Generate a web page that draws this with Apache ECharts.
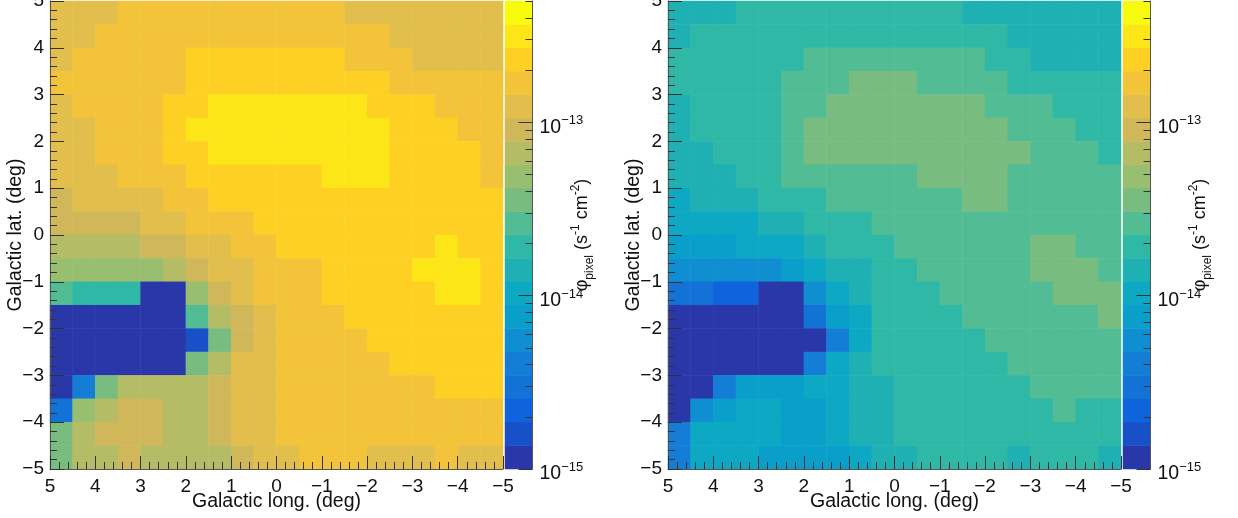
<!DOCTYPE html>
<html>
<head>
<meta charset="utf-8">
<title>Galactic flux maps</title>
<script src="https://cdn.jsdelivr.net/npm/echarts@6/dist/echarts.min.js"></script>
<style>
html, body { margin: 0; padding: 0; background: #fff; }
#chart { width: 1238px; height: 518px; }
</style>
</head>
<body>
<div id="chart"></div>
<script>
// pixel centres, longitude runs 5 -> -5, latitude listed from the top row down
var longCells = ['4.75','4.25','3.75','3.25','2.75','2.25','1.75','1.25','0.75','0.25','-0.25','-0.75','-1.25','-1.75','-2.25','-2.75','-3.25','-3.75','-4.25','-4.75'];
var latCells = ['4.75','4.25','3.75','3.25','2.75','2.25','1.75','1.25','0.75','0.25','-0.25','-0.75','-1.25','-1.75','-2.25','-2.75','-3.25','-3.75','-4.25','-4.75'];

// colour band (0..19) read for every pixel
var bandsLeft = [
  [15,15,15,16,16,16,16,16,16,16,16,16,16,15,15,15,15,15,15,15],
  [15,15,16,16,16,16,16,16,16,16,16,16,16,16,16,15,15,15,15,15],
  [15,16,16,16,16,16,17,17,17,17,17,17,17,16,16,16,15,15,15,15],
  [16,16,16,16,16,16,17,17,17,17,17,17,17,17,17,16,16,16,16,16],
  [15,16,16,16,16,17,17,18,18,18,18,18,18,18,17,17,17,16,16,16],
  [15,15,16,16,16,17,18,18,18,18,18,18,18,18,18,17,17,17,16,16],
  [15,15,16,16,16,17,17,18,18,18,18,18,18,18,18,17,17,17,17,16],
  [15,15,15,16,16,16,17,17,17,17,17,17,18,18,18,17,17,17,17,16],
  [14,15,15,15,15,16,16,17,17,17,17,17,17,17,17,17,17,17,17,17],
  [14,14,14,14,15,15,16,16,16,17,17,17,17,17,17,17,17,17,17,17],
  [13,13,13,13,14,14,15,15,16,16,17,17,17,17,17,17,17,18,17,17],
  [12,12,12,12,12,13,14,15,15,16,16,16,17,17,17,17,18,18,18,17],
  [10,9,9,9,0,0,12,14,15,16,16,16,17,17,17,17,17,18,18,17],
  [0,0,0,0,0,0,10,13,14,15,16,16,16,17,17,17,17,17,17,17],
  [0,0,0,0,0,0,1,11,14,15,16,16,16,16,17,17,17,17,17,17],
  [0,0,0,0,0,0,11,13,15,15,16,16,16,16,16,17,17,17,17,17],
  [0,4,11,13,13,13,13,14,15,15,16,16,16,16,16,16,16,17,17,17],
  [3,12,13,14,14,13,13,14,15,15,16,16,16,16,16,16,16,16,16,16],
  [11,13,14,14,14,13,13,14,15,15,16,16,16,16,16,16,16,16,16,16],
  [11,13,13,14,13,13,13,13,14,15,15,16,16,16,15,15,15,16,15,15]
];
var bandsRight = [
  [8,8,8,9,9,9,9,9,9,9,9,9,9,8,8,8,8,8,8,8],
  [8,9,9,9,9,9,9,9,9,9,9,9,9,9,9,8,8,8,8,8],
  [9,9,9,9,9,9,10,10,10,10,10,10,10,10,9,9,8,8,8,8],
  [9,9,9,9,9,10,10,10,11,11,11,10,10,10,10,9,9,9,9,9],
  [8,9,9,9,9,10,10,11,11,11,11,11,11,11,10,10,10,9,9,9],
  [8,9,9,9,9,10,11,11,11,11,11,11,11,11,11,10,10,10,9,9],
  [8,8,9,9,9,10,11,11,11,11,11,11,11,11,11,11,10,10,10,9],
  [8,8,8,9,9,10,10,10,10,10,10,11,11,11,11,10,10,10,10,10],
  [7,8,8,8,9,9,9,10,10,10,10,10,10,11,11,10,10,10,10,10],
  [7,7,7,7,8,8,9,9,9,10,10,10,10,10,10,10,10,10,10,10],
  [6,6,6,7,7,7,8,9,9,9,10,10,10,10,10,10,11,11,10,10],
  [5,5,5,5,5,6,7,8,8,9,9,10,10,10,10,10,11,11,11,10],
  [3,3,2,2,0,0,5,7,8,9,9,9,10,10,10,10,10,11,11,11],
  [0,0,0,0,0,0,3,6,7,9,9,9,9,10,10,10,10,10,10,11],
  [0,0,0,0,0,0,0,4,7,9,9,9,9,9,10,10,10,10,10,10],
  [0,0,0,0,0,0,4,7,8,9,9,9,9,9,9,10,10,10,10,10],
  [0,0,4,6,6,6,7,7,8,8,9,9,9,9,9,9,10,10,10,10],
  [0,5,6,7,7,6,6,7,8,8,9,9,9,9,9,9,9,10,9,9],
  [4,7,7,7,7,6,6,7,8,8,9,9,9,9,9,9,9,9,9,9],
  [4,7,7,7,6,6,6,6,7,8,8,9,9,9,9,8,9,9,9,8]
];

var bandColors = ['#2a37a8','#1850c8','#0f63dc','#1272d6','#147dd6','#0f8fd2','#0a9fcb','#0ca8c4','#1fb0b4','#2fb8a6',
  '#52bc94','#78bc80','#98bf70','#b4bc66','#d0b85a','#e2bf4c','#f3c43a','#ffd024','#fde617','#f9fb0e'];
var barBands = ['0','1','2','3','4','5','6','7','8','9','10','11','12','13','14','15','16','17','18','19'];

// colour axis, log10 of the flux
var fluxMajor = [-15, -14, -13];
var fluxMinor = [2e-15,3e-15,4e-15,5e-15,6e-15,7e-15,8e-15,9e-15,2e-14,3e-14,4e-14,5e-14,6e-14,7e-14,8e-14,9e-14,2e-13,3e-13,4e-13,5e-13];
var fluxLogMin = -15, fluxLogMax = -12.3;

var TEXT = '#111';
var FONT = 'Liberation Sans';

var grids = [], xAxes = [], yAxes = [], series = [];

function degLabel(v) {
  return v < 0 ? '\u2212' + (-v) : String(v);
}

function addPanel(left, bands) {
  var g = grids.length;
  grids.push({left: left, top: 1, width: 453, height: 468, outerBoundsMode: 'none'});

  // the pixels sit on category axes, the visible ticks on value axes
  var cellX = xAxes.length, cellY = yAxes.length;
  xAxes.push({type: 'category', gridIndex: g, data: longCells, show: false});
  yAxes.push({type: 'category', gridIndex: g, data: latCells, inverse: true, show: false});

  xAxes.push({
    type: 'value', gridIndex: g, min: -5, max: 5, interval: 1, inverse: true, position: 'bottom', zlevel: 1,
    name: 'Galactic long. (deg)', nameLocation: 'middle', nameGap: 23, nameMoveOverlap: false,
    nameTextStyle: {fontFamily: FONT, fontSize: 19.5, color: TEXT},
    axisLine: {show: true, onZero: false, lineStyle: {color: '#555', width: 1}},
    axisTick: {show: true, inside: true, length: 13, lineStyle: {color: '#333', width: 1}},
    minorTick: {show: true, splitNumber: 5, length: 7, lineStyle: {color: '#333', width: 1}},
    splitLine: {show: false},
    axisLabel: {formatter: degLabel, margin: 8, fontFamily: FONT, fontSize: 19, color: TEXT, showMinLabel: true, showMaxLabel: true, hideOverlap: false}
  });
  yAxes.push({
    type: 'value', gridIndex: g, min: -5, max: 5, interval: 1, position: 'left', zlevel: 1,
    name: 'Galactic lat. (deg)', nameLocation: 'middle', nameGap: 24, nameMoveOverlap: false,
    nameTextStyle: {fontFamily: FONT, fontSize: 19.5, color: TEXT},
    axisLine: {show: true, onZero: false, lineStyle: {color: '#555', width: 1}},
    axisTick: {show: true, inside: true, length: 14, lineStyle: {color: '#333', width: 1}},
    minorTick: {show: true, splitNumber: 5, length: 7, lineStyle: {color: '#333', width: 1}},
    splitLine: {show: false},
    axisLabel: {formatter: degLabel, margin: 6, padding: [6, 0, 0, 0], fontFamily: FONT, fontSize: 19, color: TEXT, showMinLabel: true, showMaxLabel: true, hideOverlap: false}
  });

  var cells = [];
  bands.forEach(function (row, r) {
    row.forEach(function (b, c) { cells.push([c, r, b]); });
  });
  series.push({type: 'heatmap', xAxisIndex: cellX, yAxisIndex: cellY, data: cells, silent: true, animation: false});

  // colour bar
  var gb = grids.length;
  grids.push({left: left + 455, top: 1, width: 27.5, height: 468, outerBoundsMode: 'none'});
  var barX = xAxes.length, barY = yAxes.length;
  xAxes.push({type: 'category', gridIndex: gb, data: ['flux'], show: false});
  yAxes.push({type: 'category', gridIndex: gb, data: barBands, show: false});

  yAxes.push({
    type: 'value', gridIndex: gb, min: fluxLogMin, max: fluxLogMax, position: 'right', zlevel: 1,
    axisLine: {show: true, onZero: false, lineStyle: {color: '#555', width: 1}},
    axisTick: {show: true, inside: true, length: 14, customValues: fluxMajor, lineStyle: {color: '#333', width: 1}},
    splitLine: {show: false},
    axisLabel: {
      customValues: fluxMajor, margin: 7, padding: [10, 0, 0, 0], fontFamily: FONT, color: TEXT, align: 'left',
      formatter: function (v) { return '{b|10}{s|\u2212' + Math.abs(Math.round(v)) + '}'; },
      rich: {
        b: {fontFamily: FONT, fontSize: 19.5, color: TEXT, lineHeight: 26},
        s: {fontFamily: FONT, fontSize: 13, color: TEXT, verticalAlign: 'top', lineHeight: 13}
      }
    }
  });
  yAxes.push({
    type: 'value', gridIndex: gb, min: fluxLogMin, max: fluxLogMax, position: 'right', zlevel: 1,
    axisLine: {show: false, onZero: false},
    axisTick: {show: true, inside: true, length: 7, customValues: fluxMinor.map(Math.log10), lineStyle: {color: '#333', width: 1}},
    splitLine: {show: false},
    axisLabel: {show: false},
    name: '{t|\u03c6}{d|pixel}{t| (s}{u|-1}{t| cm}{u|-2}{t|)}',
    nameLocation: 'middle', nameRotate: 90, nameGap: 37, nameMoveOverlap: false,
    nameTextStyle: {
      fontFamily: FONT, color: TEXT,
      rich: {
        t: {fontFamily: FONT, fontSize: 18, color: TEXT, lineHeight: 26},
        u: {fontFamily: FONT, fontSize: 12, color: TEXT, verticalAlign: 'top', lineHeight: 12},
        d: {fontFamily: FONT, fontSize: 12, color: TEXT, verticalAlign: 'bottom', lineHeight: 12}
      }
    }
  });

  series.push({
    type: 'heatmap', xAxisIndex: barX, yAxisIndex: barY, silent: true, animation: false,
    data: barBands.map(function (b, i) { return [0, i, i]; })
  });
}

addPanel(50, bandsLeft);
addPanel(668, bandsRight);

var myChart = echarts.init(document.getElementById('chart'), null, {renderer: 'canvas'});
myChart.setOption({
  animation: false,
  backgroundColor: '#fff',
  grid: grids,
  xAxis: xAxes,
  yAxis: yAxes,
  visualMap: {
    show: false,
    type: 'piecewise',
    dimension: 2,
    seriesIndex: series.map(function (s, i) { return i; }),
    pieces: bandColors.map(function (c, i) { return {value: i, color: c}; })
  },
  series: series
});
</script>
</body>
</html>
